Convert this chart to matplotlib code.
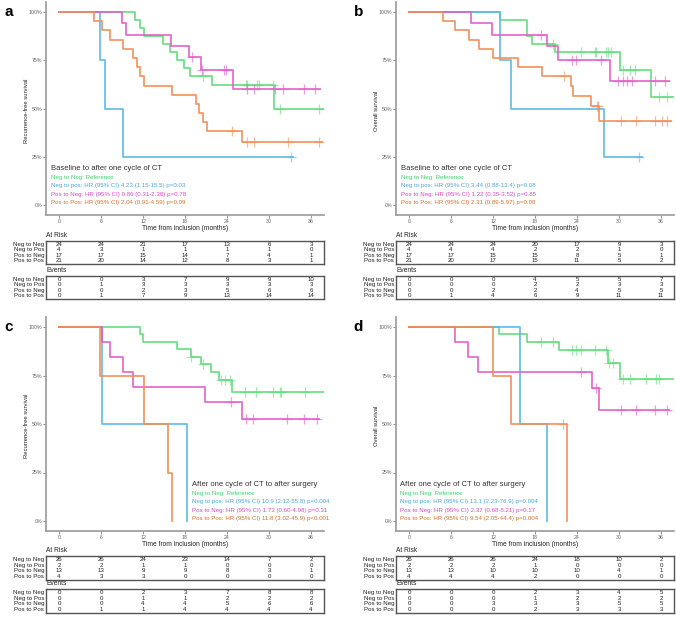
import numpy as np
import matplotlib.pyplot as plt

W, H = 676, 617
plt.rcParams['font.family'] = ['Liberation Sans', 'DejaVu Sans']

MONTHS = [0, 6, 12, 18, 24, 30, 36]
GROUPS = ["Neg to Neg", "Neg to Pos", "Pos to Neg", "Pos to Pos"]
LINE_COLORS = ["#62DD7C", "#5BB9EA", "#E35DCB", "#F28E55"]
TEXT_COLORS = ["#3FD36A", "#49A8E0", "#D94BC8", "#D9712F"]

# ---- panel a: RFS, baseline -> after one cycle of CT
A_NN_T = [0, 10.9, 11.6, 12.2, 14.8, 15.9, 16.8, 17.9, 18.7, 21.8, 30.7]
A_NN_S = [100, 95.8, 91.7, 87.5, 83.3, 79.2, 75.0, 70.8, 66.7, 62.2, 49.8]
A_NN_C = [20.6, 26.7, 26.9, 28.3, 28.5, 30.5, 31.6, 37.2]
A_NN_END = 38.0
A_NP_T = [0, 5.9, 6.6, 9.1]
A_NP_S = [100, 75, 50, 25]
A_NP_C = [33.2]
A_NP_END = 33.4
A_PN_T = [0, 9.0, 9.5, 16.0, 18.5, 20.3, 24.8]
A_PN_S = [100, 94.1, 88.2, 82.4, 76.5, 70.1, 60.1]
A_PN_C = [19.0, 20.4, 23.5, 23.9, 26.8, 27.8, 30.8, 32.0, 35.0, 36.6]
A_PN_END = 37.3
A_PP_T = [0, 5.0, 6.2, 7.3, 9.1, 10.6, 11.2, 11.6, 12.1, 16.2, 19.5, 20.0, 20.6, 21.1, 26.2]
A_PP_S = [100, 95.2, 90.5, 85.7, 81.0, 76.2, 71.4, 66.7, 61.9, 57.1, 52.4, 47.6, 42.9, 38.1, 32.7]
A_PP_C = [24.7, 26.8, 27.8, 32.7, 37.2]
A_PP_END = 37.6
A_RISK = [[24, 24, 21, 17, 13, 6, 3], [4, 3, 1, 1, 1, 1, 0],
          [17, 17, 15, 14, 7, 4, 1], [21, 20, 14, 12, 8, 3, 1]]
A_EVENTS = [[0, 0, 3, 7, 9, 9, 10], [0, 1, 3, 3, 3, 3, 3],
            [0, 0, 2, 3, 5, 6, 6], [0, 1, 7, 9, 13, 14, 14]]
A_HR = ["Neg to Neg: Reference",
        "Neg to pos: HR (95% CI) 4.23 (1.15-15.5) p=0.03",
        "Pos to Neg: HR (95% CI) 0.86 (0.31-2.38) p=0.78",
        "Pos to Pos: HR (95% CI) 2.04 (0.91-4.59) p=0.09"]

# ---- panel b: OS, baseline -> after one cycle of CT
B_NN_T = [0, 13.0, 16.8, 17.5, 20.9, 30.1, 34.6]
B_NN_S = [100, 95.8, 87.5, 83.3, 79.2, 69.9, 55.9]
B_NN_C = [20.5, 24.6, 26.5, 26.7, 28.1, 28.4, 28.9, 30.6, 31.5, 32.3, 35.7, 36.9]
B_NN_END = 37.7
B_NP_T = [0, 13.0, 14.5, 27.9]
B_NP_S = [100, 75, 50, 25]
B_NP_C = [32.9]
B_NP_END = 33.3
B_PN_T = [0, 8.9, 11.8, 19.7, 21.3, 28.7]
B_PN_S = [100, 94.1, 88.2, 82.4, 75.3, 64.3]
B_PN_C = [18.9, 23.3, 23.8, 27.4, 29.8, 30.5, 31.1, 31.8, 35.1, 36.6]
B_PN_END = 37.2
B_PP_T = [0, 4.9, 6.5, 8.5, 10.0, 12.0, 15.6, 19.0, 23.2, 23.4, 26.0, 27.2]
B_PP_S = [100, 95.2, 90.5, 85.7, 81.0, 76.2, 71.4, 66.7, 61.6, 56.4, 51.3, 43.5]
B_PP_C = [22.2, 26.8, 27.0, 30.3, 32.4, 35.1, 36.2, 36.9]
B_PP_END = 37.4
B_RISK = [[24, 24, 24, 20, 17, 9, 3], [4, 4, 4, 2, 2, 1, 0],
          [17, 17, 15, 15, 8, 5, 1], [21, 20, 17, 15, 11, 5, 2]]
B_EVENTS = [[0, 0, 0, 4, 5, 5, 7], [0, 0, 0, 2, 2, 3, 3],
            [0, 0, 2, 2, 4, 5, 5], [0, 1, 4, 6, 9, 11, 11]]
B_HR = ["Neg to Neg: Reference",
        "Neg to pos: HR (95% CI) 3.44 (0.88-13.4) p=0.08",
        "Pos to Neg: HR (95% CI) 1.22 (0.35-3.52) p=0.85",
        "Pos to Pos: HR (95% CI) 2.31 (0.89-5.97) p=0.08"]

# ---- panel c: RFS, after one cycle of CT -> after surgery
C_NN_T = [0, 11.5, 12.0, 16.8, 18.8, 20.3, 21.7, 22.9, 24.7]
C_NN_S = [100, 96.2, 92.3, 88.5, 84.6, 80.8, 76.9, 72.7, 66.6]
C_NN_C = [18.9, 20.6, 23.2, 23.7, 24.4, 26.6, 28.2, 30.5, 31.5, 31.7, 35.2]
C_NN_END = 37.9
C_NP_T = [0, 6.2, 18.3]
C_NP_S = [100, 50, 0]
C_NP_C = []
C_NP_END = 18.3
C_PN_T = [0, 6.2, 7.3, 9.1, 10.6, 20.9, 26.1]
C_PN_S = [100, 92.3, 84.6, 76.9, 69.2, 61.5, 52.7]
C_PN_C = [24.6, 26.7, 27.7, 32.5, 35.0, 36.9]
C_PN_END = 37.2
C_PP_T = [0, 5.8, 12.1, 15.5, 16.1]
C_PP_S = [100, 75, 50, 25, 0]
C_PP_C = []
C_PP_END = 16.1
C_RISK = [[26, 26, 24, 23, 14, 7, 2], [2, 2, 1, 1, 0, 0, 0],
          [13, 13, 9, 9, 8, 3, 1], [4, 3, 3, 0, 0, 0, 0]]
C_EVENTS = [[0, 0, 2, 3, 7, 8, 8], [0, 0, 1, 1, 2, 2, 2],
            [0, 0, 4, 4, 5, 6, 6], [0, 1, 1, 4, 4, 4, 4]]
C_HR = ["Neg to Neg: Reference",
        "Neg to pos: HR (95% CI) 10.9 (2.12-55.8) p=0.004",
        "Pos to Neg: HR (95% CI) 1.73 (0.60-4.98) p=0.31",
        "Pos to Pos: HR (95% CI) 11.8 (3.02-45.9) p<0.001"]

# ---- panel d: OS, after one cycle of CT -> after surgery
D_NN_T = [0, 12.9, 16.8, 21.4, 28.4, 30.1]
D_NN_S = [100, 96.2, 92.3, 88.4, 81.6, 73.3]
D_NN_C = [18.8, 20.5, 23.3, 23.8, 24.6, 26.5, 28.1, 28.6, 29.1, 30.6, 31.5, 33.9, 35.3, 35.7]
D_NN_END = 37.8
D_NP_T = [0, 15.9, 19.7]
D_NP_S = [100, 50, 0]
D_NP_C = []
D_NP_END = 19.7
D_PN_T = [0, 6.5, 8.4, 9.9, 26.1, 27.2]
D_PN_S = [100, 92.3, 84.6, 76.9, 68.5, 57.1]
D_PN_C = [24.6, 26.7, 30.3, 32.4, 35.1, 36.9]
D_PN_END = 37.2
D_PP_T = [0, 12.0, 14.5, 22.5]
D_PP_S = [100, 75, 50, 0]
D_PP_C = [22.0]
D_PP_END = 22.5
D_RISK = [[26, 26, 26, 24, 18, 10, 2], [2, 2, 2, 1, 0, 0, 0],
          [13, 13, 10, 10, 10, 4, 1], [4, 4, 4, 2, 0, 0, 0]]
D_EVENTS = [[0, 0, 0, 2, 3, 4, 5], [0, 0, 0, 1, 2, 2, 2],
            [0, 0, 3, 3, 3, 5, 5], [0, 0, 0, 2, 3, 3, 3]]
D_HR = ["Neg to Neg: Reference",
        "Neg to pos: HR (95% CI) 13.1 (2.23-76.9) p=0.004",
        "Pos to Neg: HR (95% CI) 2.37 (0.68-8.21) p=0.17",
        "Pos to Pos: HR (95% CI) 9.54 (2.05-44.4) p=0.004"]

TITLE_AB = "Baseline to after one cycle of CT"
TITLE_CD = "After one cycle of CT to after surgery"
XMIN, XMAX = -1.8, 37.9


def px(l, t, r, b):
    return [l / W, 1 - b / H, (r - l) / W, (b - t) / H]


def km(ax, t, s, cens, end, color):
    ax.step(list(t) + [end], list(s) + [s[-1]], where='post', color=color, lw=1.3, alpha=0.9)
    if cens:
        idx = np.searchsorted(t, cens, side='right') - 1
        ax.plot(cens, np.array(s)[idx], ls='none', marker='+', ms=6.5, mew=0.9,
                color=color, alpha=0.6)


def table(ax, rows, name):
    ax.set_xlim(XMIN, XMAX)
    ax.set_ylim(4.1, -0.1)
    ax.set_xticks([])
    ax.set_yticks([])
    for sp in ax.spines.values():
        sp.set_color('#555555')
        sp.set_linewidth(1.0)
    for i, row in enumerate(rows):
        for m, v in zip(MONTHS, row):
            ax.text(m, i + 0.5, str(v), ha='center', va='center', fontsize=4.4, color='#222222')
        ax.text(-0.008, i + 0.5, GROUPS[i], transform=ax.get_yaxis_transform(), ha='right',
                va='center', fontsize=4.4, color='#222222',
                family=['Liberation Sans Narrow', 'Liberation Sans'])
    ax.text(0, 1.08, name, transform=ax.transAxes, ha='left', va='bottom', fontsize=4.8,
            color='#222222')


def panel(letter, left, right, top, bottom, ylabel, curves, title, hr, tx, risk, events,
          rtop, etop, theight):
    ax = fig.add_axes(px(left, top, right, bottom))
    for (t, s, c, e), col in zip(curves, LINE_COLORS):
        km(ax, t, s, c, e, col)
    ax.set_xlim(XMIN, XMAX)
    ax.set_ylim(-5, 105)
    ax.set_xticks(MONTHS)
    ax.set_yticks([0, 25, 50, 75, 100])
    ax.set_yticklabels(['0%', '25%', '50%', '75%', '100%'])
    ax.tick_params(labelsize=3.8, length=2, width=0.5, colors='#666666', pad=1)
    for sp in ['top', 'right']:
        ax.spines[sp].set_visible(False)
    for sp in ['left', 'bottom']:
        ax.spines[sp].set_color('#9a9a9a')
        ax.spines[sp].set_linewidth(1.2)
    ax.set_xlabel('Time from inclusion (months)', fontsize=4.8, labelpad=1, color='#222222')
    ax.set_ylabel(ylabel, fontsize=4.2, color='#222222')
    ax.yaxis.set_label_coords(-0.062, 0.49)
    ax.text(tx, 0.215, title, transform=ax.transAxes, fontsize=5.5, color='#333333',
            va='center', ha='left')
    for i, line in enumerate(hr):
        ax.text(tx, 0.174 - i * 0.039, line, transform=ax.transAxes, fontsize=4.4,
                color=TEXT_COLORS[i], va='center', ha='left')
    fig.text((left - 38) / W, 1 - (top + 10) / H, letter, fontsize=11, fontweight='bold',
             ha='center', va='center')
    table(fig.add_axes(px(left, rtop, right, rtop + theight)), risk, 'At Risk')
    table(fig.add_axes(px(left, etop, right, etop + theight)), events, 'Events')


fig = plt.figure(figsize=(W / 100, H / 100), dpi=100)

panel('a', 46.4, 324.3, 2.4, 214.6, 'Recurrence-free survival',
      [(A_NN_T, A_NN_S, A_NN_C, A_NN_END), (A_NP_T, A_NP_S, A_NP_C, A_NP_END),
       (A_PN_T, A_PN_S, A_PN_C, A_PN_END), (A_PP_T, A_PP_S, A_PP_C, A_PP_END)],
      TITLE_AB, A_HR, 0.017, A_RISK, A_EVENTS, 241, 276, 23)
panel('b', 396.4, 674.3, 2.4, 214.6, 'Overall survival',
      [(B_NN_T, B_NN_S, B_NN_C, B_NN_END), (B_NP_T, B_NP_S, B_NP_C, B_NP_END),
       (B_PN_T, B_PN_S, B_PN_C, B_PN_END), (B_PP_T, B_PP_S, B_PP_C, B_PP_END)],
      TITLE_AB, B_HR, 0.017, B_RISK, B_EVENTS, 241, 276, 23)
panel('c', 46.4, 324.3, 317.3, 530.7, 'Recurrence-free survival',
      [(C_NN_T, C_NN_S, C_NN_C, C_NN_END), (C_NP_T, C_NP_S, C_NP_C, C_NP_END),
       (C_PN_T, C_PN_S, C_PN_C, C_PN_END), (C_PP_T, C_PP_S, C_PP_C, C_PP_END)],
      TITLE_CD, C_HR, 0.524, C_RISK, C_EVENTS, 556, 589, 24)
panel('d', 396.4, 674.3, 317.3, 530.7, 'Overall survival',
      [(D_NN_T, D_NN_S, D_NN_C, D_NN_END), (D_NP_T, D_NP_S, D_NP_C, D_NP_END),
       (D_PN_T, D_PN_S, D_PN_C, D_PN_END), (D_PP_T, D_PP_S, D_PP_C, D_PP_END)],
      TITLE_CD, D_HR, 0.012, D_RISK, D_EVENTS, 556, 589, 24)

fig.savefig('out.png', dpi=100)
